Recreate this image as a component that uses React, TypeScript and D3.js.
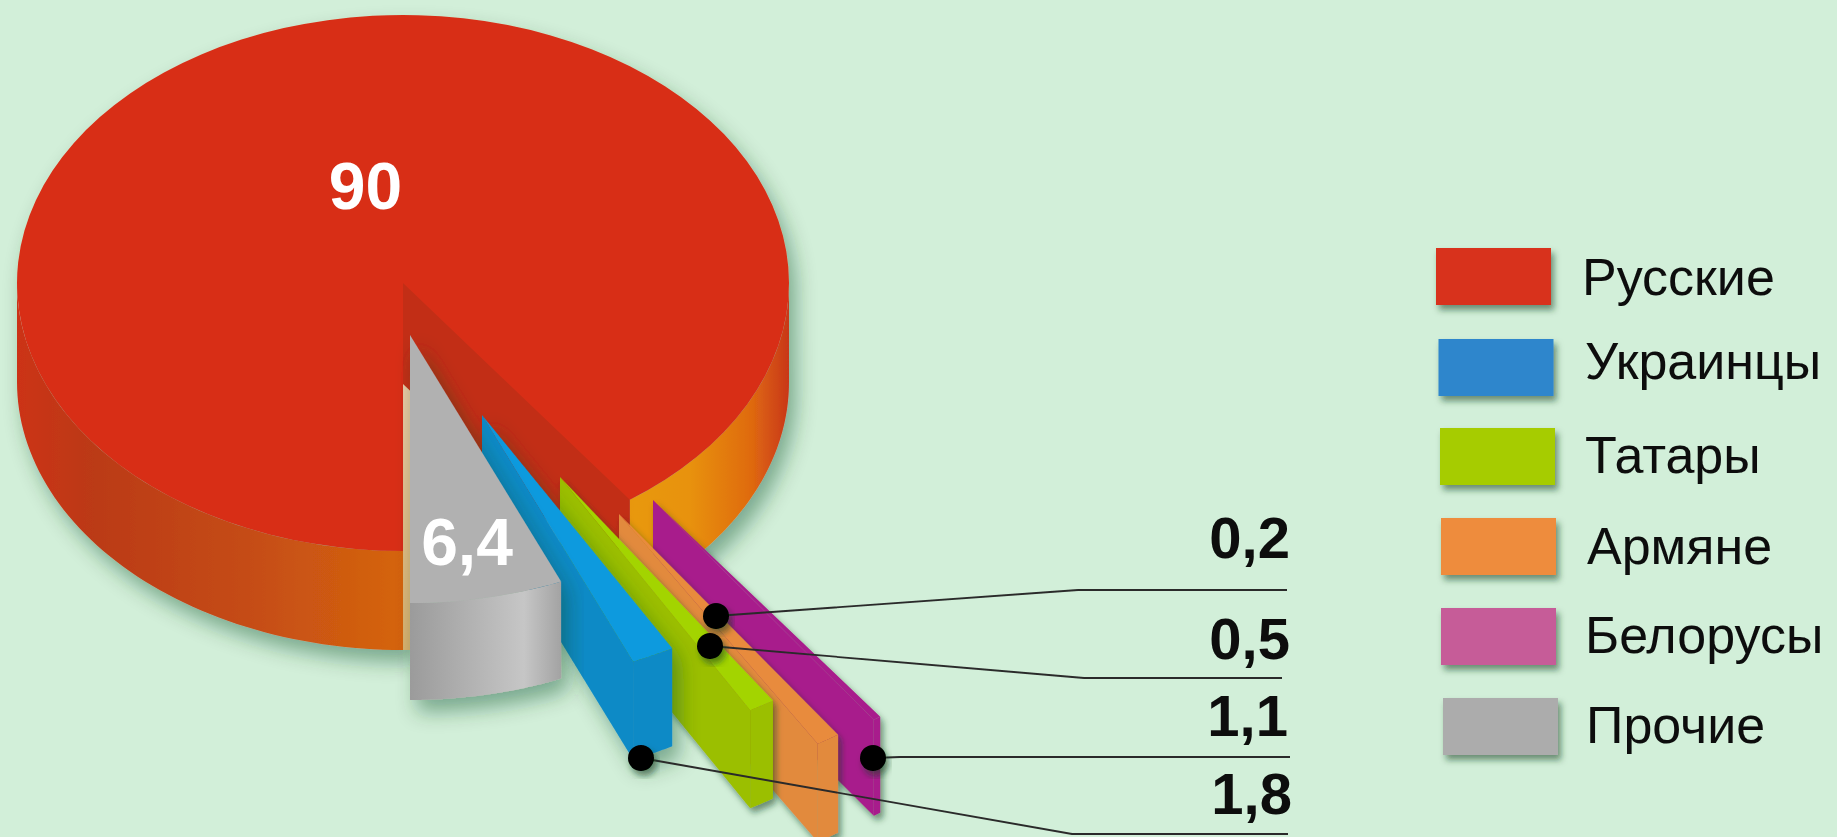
import React from "react";
import * as d3 from "d3";

// ---- data ----
const categories = ["Русские", "Украинцы", "Татары", "Армяне", "Белорусы", "Прочие"];
const legendColors = ["#d8301a", "#2e86cc", "#a6cc00", "#ee8c3c", "#c65c98", "#acacac"];
const mainShare = 90;
const mainLabel = "90";
// the wedges pulled out of the pie, from the bottom of the disc turning right
const wedgeNames = ["Прочие", "Украинцы", "Татары", "Армяне", "Белорусы"];
const wedgeShares = [6.4, 1.8, 1.1, 1.0, 0.33]; // as wide as drawn in the picture
const wedgeTop = ["#b1b1b1", "#0a9ade", "#a3d400", "#e88b3e", "#a81c8c"];
const wedgeWall = ["#b1b1b1", "#0a8ac6", "#9bbf00", "#e28a3e", "#a81c8c"];
const calloutLabels = ["0,2", "0,5", "1,1", "1,8"];
const grayLabel = "6,4";

// ---- layout ----
const W = 1837, H = 837;
const cx = 403, cy = 283, rx = 386, ry = 268, depth = 99;
const wedgeApex: [number, number][] = [[410, 335], [482, 415], [560, 477], [619, 514], [653, 500]];
const wedgeTurn = [0, 0, 0, -2.5, -2.2]; // degrees
const wedgeDepth = [97, 98, 98, 98, 96];
const calloutLayout = [
  { dot: [716, 616], elbow: [1078, 590], end: 1287, tx: 1290, ty: 558 },
  { dot: [710, 646], elbow: [1084, 678], end: 1282, tx: 1290, ty: 659 },
  { dot: [873, 758], elbow: [900, 757], end: 1290, tx: 1288, ty: 736 },
  { dot: [641, 758], elbow: [1072, 834], end: 1288, tx: 1292, ty: 814 },
];
const legendLayout = [
  { x: 1436, y: 248, tx: 1582, ty: 295 },
  { x: 1438.5, y: 339, tx: 1585, ty: 379 },
  { x: 1440, y: 428, tx: 1585, ty: 473 },
  { x: 1441, y: 518, tx: 1587, ty: 564 },
  { x: 1441, y: 608, tx: 1585, ty: 653 },
  { x: 1443, y: 698, tx: 1586, ty: 743 },
];

const toAngle = d3.scaleLinear().domain([0, 100]).range([0, 2 * Math.PI]);
const line = d3.line<[number, number]>();

// theta measured from the bottom of the ellipse, turning towards the right
const rim = (x0: number, y0: number, t: number): [number, number] => [x0 + rx * Math.sin(t), y0 + ry * Math.cos(t)];

function sideFace(x0: number, y0: number, t0: number, t1: number, d: number) {
  const n = 60;
  const ts = d3.range(n + 1).map((i) => t0 + ((t1 - t0) * i) / n);
  const top = ts.map((t) => rim(x0, y0, t));
  const bottom = ts.map((t) => rim(x0, y0 + d, t)).reverse();
  return line([...top, ...bottom]) + "Z";
}

const mainArc = d3.arc()({
  innerRadius: 0,
  outerRadius: rx,
  startAngle: Math.PI,
  endAngle: Math.PI + toAngle(mainShare),
} as any) as string;
const mainCut = toAngle(100 - mainShare);
const cutPoint = rim(cx, cy, mainCut);

const starts = [0, ...Array.from(d3.cumsum(wedgeShares))];
const wedges = wedgeNames.map((name, i) => {
  const turn = (wedgeTurn[i] * Math.PI) / 180;
  const t0 = toAngle(starts[i]) + turn;
  const t1 = toAngle(starts[i + 1]) + turn;
  const [ax, ay] = wedgeApex[i];
  const d = wedgeDepth[i];
  const n = 16;
  const ts = d3.range(n + 1).map((k) => t0 + ((t1 - t0) * k) / n);
  const arcPts = ts.map((t) => rim(ax, ay, t));
  const topPath = line([[ax, ay], ...arcPts]) + "Z";
  const l = rim(ax, ay, t0);
  const wallPath = line([[ax, ay], l, [l[0], l[1] + d], [ax, ay + d]]) + "Z";
  return { name, i, topPath, wallPath, sidePath: sideFace(ax, ay, t0, t1, d) };
});

const FONT = "'Liberation Sans', Arial, sans-serif";

export default function App() {
  return (
    <svg
      width={W}
      height={H}
      viewBox={`0 0 ${W} ${H}`}
      style={{ position: "absolute", left: 0, top: 0, display: "block" }}
    >
      <defs>
        <linearGradient id="redSide" gradientUnits="userSpaceOnUse" x1={17} x2={790} y1={0} y2={0}>
          <stop offset="0" stopColor="#cc3318" />
          <stop offset="0.1" stopColor="#bb3a18" />
          <stop offset="0.3" stopColor="#c54c14" />
          <stop offset="0.5" stopColor="#d5650f" />
          <stop offset="0.8" stopColor="#e8980a" />
          <stop offset="0.87" stopColor="#e8920a" />
          <stop offset="0.95" stopColor="#df6a10" />
          <stop offset="1" stopColor="#c8351a" />
        </linearGradient>
        <linearGradient id="graySide" gradientUnits="userSpaceOnUse" x1={410} x2={562} y1={0} y2={0}>
          <stop offset="0" stopColor="#9b9b9b" />
          <stop offset="0.4" stopColor="#b2b2b2" />
          <stop offset="0.75" stopColor="#c6c6c6" />
          <stop offset="1" stopColor="#a2a2a2" />
        </linearGradient>
        <linearGradient id="slit" x1="0" x2="0" y1="0" y2="1">
          <stop offset="0" stopColor="#e6c9a8" />
          <stop offset="1" stopColor="#d8b070" />
        </linearGradient>
        <filter id="big" x="-10%" y="-10%" width="125%" height="130%">
          <feDropShadow dx="7" dy="12" stdDeviation="10" floodColor="#0e4a22" floodOpacity="0.42" />
        </filter>
        <filter id="small" x="-20%" y="-20%" width="140%" height="150%">
          <feDropShadow dx="3" dy="5" stdDeviation="3" floodColor="#103c1c" floodOpacity="0.55" />
        </filter>
        <filter id="soft">
          <feGaussianBlur stdDeviation="0.7" />
        </filter>
      </defs>
      <rect width={W} height={H} fill="#d2efd9" />
      <g filter="url(#soft)">
        <g filter="url(#big)">
          <path d={sideFace(cx, cy, mainCut, Math.PI / 2, depth)} fill="url(#redSide)" />
          <path d={sideFace(cx, cy, -Math.PI / 2, 0, depth)} fill="url(#redSide)" />
          <rect x={403} y={381} width={7} height={269} fill="url(#slit)" />
          <path
            d={(line([[cx, cy - 4], [cutPoint[0], cutPoint[1] - 4], [cutPoint[0], cutPoint[1] + depth], [cx, cy + depth + 2]]) as string) + "Z"}
            fill="#c22f18"
          />
          <path d={mainArc} transform={`translate(${cx},${cy}) scale(1,${ry / rx})`} fill="#d82f19" />
        </g>
        {wedges
          .slice()
          .reverse()
          .map((w) => (
            <g key={w.name} filter={w.i === 1 || w.i === 0 ? "url(#big)" : "url(#small)"}>
              <path d={w.wallPath} fill={wedgeWall[w.i]} />
              <path d={w.sidePath} fill={w.i === 0 ? "url(#graySide)" : wedgeWall[w.i]} />
              <path d={w.topPath} fill={wedgeTop[w.i]} />
            </g>
          ))}
        <text x={365.5} y={209} textAnchor="middle" fontFamily={FONT} fontWeight="bold" fontSize={66} fill="#fff">
          {mainLabel}
        </text>
        <text x={467} y={565} textAnchor="middle" fontFamily={FONT} fontWeight="bold" fontSize={66} fill="#fff">
          {grayLabel}
        </text>
        {calloutLabels.map((c, i) => {
          const a = calloutLayout[i];
          return (
            <g key={c}>
              <path
                d={line([a.dot as [number, number], a.elbow as [number, number], [a.end, a.elbow[1]]]) as string}
                fill="none"
                stroke="#2a2a2a"
                strokeWidth={1.8}
              />
              <circle cx={a.dot[0]} cy={a.dot[1]} r={13} fill="#000" filter="url(#small)" />
              <text x={a.tx} y={a.ty} textAnchor="end" fontFamily={FONT} fontWeight="bold" fontSize={58} fill="#0a0a0a">
                {c}
              </text>
            </g>
          );
        })}
        {categories.map((c, i) => {
          const a = legendLayout[i];
          return (
            <g key={c}>
              <rect x={a.x} y={a.y} width={115} height={57} fill={legendColors[i]} filter="url(#small)" />
              <text x={a.tx} y={a.ty} fontFamily={FONT} fontSize={52} fill="#0c0c0c">
                {c}
              </text>
            </g>
          );
        })}
      </g>
    </svg>
  );
}
